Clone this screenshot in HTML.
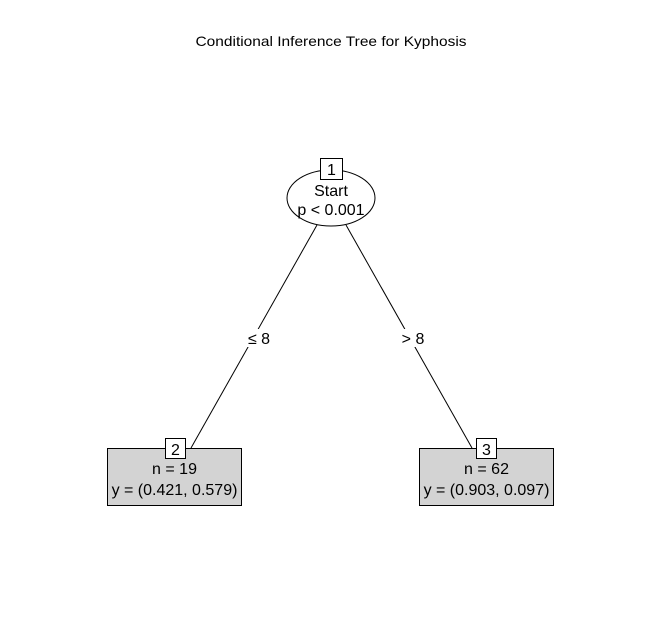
<!DOCTYPE html>
<html><head><meta charset="utf-8"><style>
html,body{margin:0;padding:0;background:#fff;}
svg{display:block;}
text{font-family:"Liberation Sans",Arial,sans-serif;fill:#000;}
</style></head><body>
<svg width="661" height="636" viewBox="0 0 661 636" xmlns="http://www.w3.org/2000/svg">
<rect width="661" height="636" fill="#fff"/>
<text x="331" y="46" font-size="14" text-anchor="middle" textLength="271" lengthAdjust="spacingAndGlyphs">Conditional Inference Tree for Kyphosis</text>
<line x1="317" y1="225" x2="191" y2="448" stroke="#000" stroke-width="1"/>
<line x1="346" y1="225" x2="472" y2="448" stroke="#000" stroke-width="1"/>
<rect x="244" y="329" width="30" height="18" fill="#fff"/>
<rect x="398" y="329" width="30" height="18" fill="#fff"/>
<text x="259" y="344" font-size="16" text-anchor="middle">≤ 8</text>
<text x="413" y="344" font-size="16" text-anchor="middle">&gt; 8</text>
<ellipse cx="331" cy="198" rx="44" ry="28" fill="#fff" stroke="#000" stroke-width="1"/>
<rect x="320.5" y="158.5" width="22" height="21" fill="#fff" stroke="#000"/>
<text x="331.5" y="175" font-size="16" text-anchor="middle">1</text>
<text x="331" y="196" font-size="16" text-anchor="middle">Start</text>
<text x="331" y="215" font-size="16" text-anchor="middle">p &lt; 0.001</text>
<rect x="107.5" y="448.5" width="134" height="57" fill="#d3d3d3" stroke="#000"/>
<rect x="165.5" y="438.5" width="20" height="20" fill="#fff" stroke="#000"/>
<text x="175.5" y="455" font-size="16" text-anchor="middle">2</text>
<text x="174.5" y="474" font-size="16" text-anchor="middle">n = 19</text>
<text x="174.5" y="495" font-size="16" text-anchor="middle">y = (0.421, 0.579)</text>
<rect x="419.5" y="448.5" width="134" height="57" fill="#d3d3d3" stroke="#000"/>
<rect x="476.5" y="438.5" width="20" height="20" fill="#fff" stroke="#000"/>
<text x="486.5" y="455" font-size="16" text-anchor="middle">3</text>
<text x="486.5" y="474" font-size="16" text-anchor="middle">n = 62</text>
<text x="486.5" y="495" font-size="16" text-anchor="middle">y = (0.903, 0.097)</text>
</svg>
</body></html>
